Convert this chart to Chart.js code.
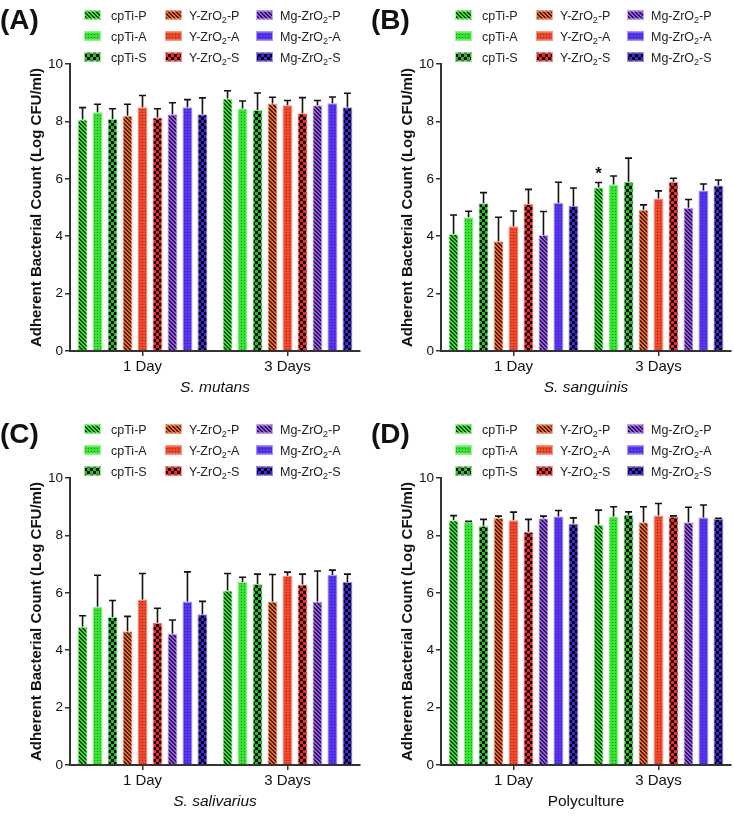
<!DOCTYPE html>
<html>
<head>
<meta charset="utf-8">
<script src="https://cdn.jsdelivr.net/npm/chart.js@4.4.1/dist/chart.umd.min.js"></script>
<style>
  body { margin: 0; background: #fff; width: 734px; height: 828px; position: relative; overflow: hidden; }
  canvas { position: absolute; }
</style>
</head>
<body>
<canvas id="chartA" width="367" height="414" style="left:0;top:0"></canvas>
<canvas id="chartB" width="363" height="414" style="left:371px;top:0"></canvas>
<canvas id="chartC" width="367" height="414" style="left:0;top:414px"></canvas>
<canvas id="chartD" width="363" height="414" style="left:371px;top:414px"></canvas>
<script>
// --- Data ---
const groups = ['1 Day', '3 Days'];
const seriesNames = ['cpTi-P', 'cpTi-A', 'cpTi-S', 'Y-ZrO2-P', 'Y-ZrO2-A', 'Y-ZrO2-S', 'Mg-ZrO2-P', 'Mg-ZrO2-A', 'Mg-ZrO2-S'];
const seriesColors = ['#36e52f', '#36e52f', '#22c41f', '#f2692a', '#f2472a', '#ff2222', '#9858f2', '#5634f2', '#3f24e2'];
const seriesBorders = ['#a4f5a0', '#a4f5a0', '#8fe88c', '#f8aa88', '#f89a88', '#ff9090', '#c8a8fa', '#a898fa', '#9c90f2'];
const seriesPatterns = ['P', 'A', 'S', 'P', 'A', 'S', 'P', 'A', 'S'];

// S. mutans
const mutansDay1 = [8.07, 8.32, 8.08, 8.20, 8.49, 8.14, 8.25, 8.49, 8.25];
const mutansDay3 = [8.80, 8.45, 8.40, 8.62, 8.56, 8.28, 8.56, 8.63, 8.49];
const mutansSd1 = [0.41, 0.28, 0.36, 0.40, 0.41, 0.30, 0.40, 0.27, 0.57];
const mutansSd3 = [0.27, 0.26, 0.59, 0.22, 0.17, 0.55, 0.17, 0.22, 0.49];

// S. sanguinis
const sanguinisDay1 = [4.08, 4.66, 5.15, 3.82, 4.35, 5.12, 4.04, 5.16, 5.05];
const sanguinisDay3 = [5.70, 5.80, 5.90, 4.92, 5.31, 5.90, 4.99, 5.59, 5.77];
const sanguinisSd1 = [0.66, 0.21, 0.37, 0.84, 0.53, 0.51, 0.82, 0.72, 0.63];
const sanguinisSd3 = [0.17, 0.30, 0.82, 0.17, 0.27, 0.12, 0.29, 0.23, 0.19];

// S. salivarius
const salivariusDay1 = [4.82, 5.51, 5.16, 4.66, 5.77, 4.96, 4.57, 5.70, 5.25];
const salivariusDay3 = [6.08, 6.38, 6.31, 5.70, 6.59, 6.29, 5.70, 6.62, 6.38];
const salivariusSd1 = [0.38, 1.10, 0.57, 0.52, 0.90, 0.50, 0.48, 1.03, 0.45];
const salivariusSd3 = [0.59, 0.16, 0.34, 0.94, 0.13, 0.36, 1.06, 0.17, 0.27];

// Polyculture
const polyDay1 = [8.53, 8.46, 8.34, 8.61, 8.53, 8.13, 8.60, 8.66, 8.41];
const polyDay3 = [8.38, 8.66, 8.72, 8.46, 8.69, 8.66, 8.46, 8.62, 8.58];
const polySd1 = [0.16, 0.03, 0.22, 0.06, 0.28, 0.43, 0.07, 0.21, 0.20];
const polySd3 = [0.50, 0.34, 0.10, 0.54, 0.42, 0.02, 0.52, 0.44, 0.02];

const FONT = '"Liberation Sans", Arial, Helvetica, sans-serif';
Chart.defaults.font.family = FONT;

// --- Fill patterns (P = hatch, A = dots, S = checker) ---
const makePattern = (color, kind) => {
    const size = kind === 'S' ? 6 : kind === 'P' ? 4 : 3;
    const c = document.createElement('canvas');
    c.width = c.height = size;
    const g = c.getContext('2d');
    g.fillStyle = color;
    g.fillRect(0, 0, size, size);
    if (kind === 'S') {
        g.fillStyle = '#000';
        g.fillRect(0, 0, 3, 3);
        g.fillRect(3, 3, 3, 3);
    } else if (kind === 'P') {
        g.fillStyle = 'rgba(0,0,0,0.7)';
        for (let i = 0; i < size; i++) {
            g.fillRect(i, i, 1, 1);
            g.fillRect((i + 1) % size, i, 1, 1);
        }
    } else {
        g.fillStyle = 'rgba(0,0,0,0.4)';
        g.fillRect(1, 1, 1, 1);
    }
    return g.createPattern(c, 'repeat');
};

const patternCtx = document.createElement('canvas').getContext('2d');
const patterns = seriesColors.map((col, i) => makePattern(col, seriesPatterns[i]));

// Draws "Y-ZrO2-P" with a subscript 2
const drawLabel = (ctx, text, x, baseline) => {
    ctx.fillStyle = '#222';
    ctx.textAlign = 'left';
    ctx.textBaseline = 'alphabetic';
    const parts = text.split('O2');
    ctx.font = '12.5px ' + FONT;
    if (parts.length === 1) {
        ctx.fillText(text, x, baseline);
        return;
    }
    const first = parts[0] + 'O';
    ctx.fillText(first, x, baseline);
    let cx = x + ctx.measureText(first).width;
    ctx.font = '9px ' + FONT;
    ctx.fillText('2', cx, baseline + 3);
    cx += ctx.measureText('2').width;
    ctx.font = '12.5px ' + FONT;
    ctx.fillText(parts[1], cx, baseline);
};

// --- Plugins ---
const legendPlugin = {
    id: 'panelLegend',
    afterDraw(chart, args, opts) {
        const ctx = chart.ctx;
        ctx.save();
        ctx.font = 'bold 28px ' + FONT;
        ctx.fillStyle = '#111';
        ctx.textAlign = 'left';
        ctx.textBaseline = 'alphabetic';
        ctx.fillText(opts.letter, 0, 29);

        const colSwatch = [84, 165, 256];
        const colText = [111, 189, 280];
        const rowY = [15, 36, 57];
        seriesNames.forEach((name, i) => {
            const col = Math.floor(i / 3);
            const row = i % 3;
            const x = colSwatch[col];
            const y = rowY[row];
            ctx.fillStyle = patterns[i];
            ctx.fillRect(x, y - 4.5, 17, 9);
            ctx.strokeStyle = seriesBorders[i];
            ctx.lineWidth = 1;
            ctx.strokeRect(x + 0.5, y - 4, 16, 8);
            drawLabel(ctx, name, colText[col], y + 4.5);
        });
        ctx.restore();
    }
};

const errorBarPlugin = {
    id: 'errorBars',
    afterDatasetsDraw(chart, args, opts) {
        const ctx = chart.ctx;
        const yScale = chart.scales.y;
        ctx.save();
        ctx.strokeStyle = '#111';
        ctx.lineWidth = 1.6;
        chart.data.datasets.forEach((ds, i) => {
            chart.getDatasetMeta(i).data.forEach((bar, j) => {
                const top = yScale.getPixelForValue(ds.data[j] + ds.sd[j]);
                ctx.beginPath();
                ctx.moveTo(bar.x, bar.y);
                ctx.lineTo(bar.x, top);
                ctx.moveTo(bar.x - 3.5, top);
                ctx.lineTo(bar.x + 3.5, top);
                ctx.stroke();
            });
        });
        // significance marks: [datasetIndex, groupIndex]
        (opts.stars || []).forEach(([i, j]) => {
            const ds = chart.data.datasets[i];
            const bar = chart.getDatasetMeta(i).data[j];
            const top = yScale.getPixelForValue(ds.data[j] + ds.sd[j]);
            ctx.fillStyle = '#111';
            ctx.font = 'bold 17px ' + FONT;
            ctx.textAlign = 'center';
            ctx.textBaseline = 'middle';
            ctx.fillText('*', bar.x, top - 8);
        });
        ctx.restore();
    }
};

// --- Chart builder ---
const makeChart = (id, letter, organism, day1, day3, sd1, sd3, padRight, stars) => {
    const datasets = seriesNames.map((name, i) => ({
        label: name,
        data: [day1[i], day3[i]],
        sd: [sd1[i], sd3[i]],
        backgroundColor: patterns[i],
        borderColor: seriesBorders[i],
        borderWidth: 1,
        categoryPercentage: 0.93,
        barPercentage: 0.667
    }));

    const axisGrid = {
        display: true,
        drawOnChartArea: false,
        drawTicks: true,
        offset: false,
        tickLength: 5,
        color: '#333',
        lineWidth: 1.5
    };

    return new Chart(document.getElementById(id), {
        type: 'bar',
        data: { labels: groups, datasets },
        options: {
            responsive: false,
            animation: false,
            layout: { padding: { left: 0, right: padRight, top: 64, bottom: 0 } },
            plugins: {
                legend: { display: false },
                tooltip: { enabled: false },
                panelLegend: { letter },
                errorBars: { stars }
            },
            scales: {
                x: {
                    grid: axisGrid,
                    border: { color: '#333', width: 2 },
                    ticks: { color: '#111', font: { size: 15 }, padding: 2 },
                    title: {
                        display: true,
                        text: organism,
                        color: '#111',
                        font: { size: 15.5, style: organism === 'Polyculture' ? 'normal' : 'italic' },
                        padding: { top: 0, bottom: 17 }
                    },
                    afterFit: (s) => { s.height = 63; }
                },
                y: {
                    min: 0,
                    max: 10,
                    ticks: { stepSize: 2, color: '#111', font: { size: 13.5 }, padding: 2 },
                    grid: axisGrid,
                    border: { color: '#333', width: 2 },
                    title: {
                        display: true,
                        text: 'Adherent Bacterial Count (Log CFU/ml)',
                        color: '#111',
                        font: { size: 15, weight: 'bold' },
                        padding: { top: 28, bottom: 0 }
                    },
                    afterFit: (s) => { s.width = 70; }
                }
            }
        },
        plugins: [legendPlugin, errorBarPlugin]
    });
};

makeChart('chartA', '(A)', 'S. mutans', mutansDay1, mutansDay3, mutansSd1, mutansSd3, 7, []);
makeChart('chartB', '(B)', 'S. sanguinis', sanguinisDay1, sanguinisDay3, sanguinisSd1, sanguinisSd3, 3, [[0, 1]]);
makeChart('chartC', '(C)', 'S. salivarius', salivariusDay1, salivariusDay3, salivariusSd1, salivariusSd3, 7, []);
makeChart('chartD', '(D)', 'Polyculture', polyDay1, polyDay3, polySd1, polySd3, 3, []);
</script>
</body>
</html>
